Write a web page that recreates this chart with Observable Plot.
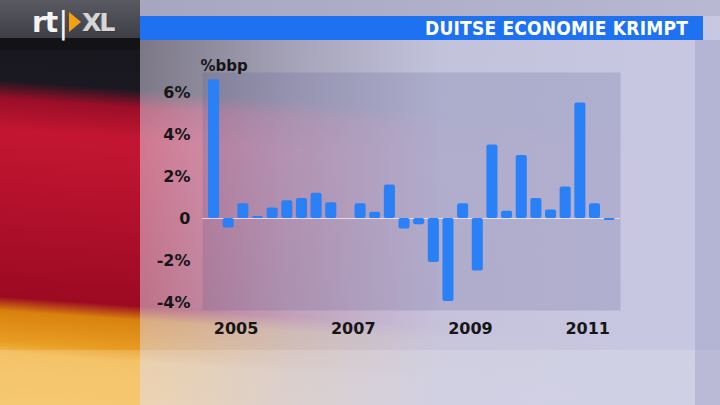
<!DOCTYPE html>
<html>
<head>
<meta charset="utf-8">
<script src="https://cdn.jsdelivr.net/npm/d3@7"></script>
<script src="https://cdn.jsdelivr.net/npm/@observablehq/plot@0.6"></script>
<style>
  html, body { margin:0; padding:0; }
  body { width:720px; height:405px; position:relative; overflow:hidden; background:#c6c6de; font-family:"DejaVu Sans", sans-serif; }
  .layer { position:absolute; }
  #flag { left:0; top:0; width:720px; height:405px;
    background: linear-gradient(184deg, #141419 0px, #1a1820 130px, #9a0e28 148px, #c41632 180px, #b0102b 265px, #9c0a22 346px, #d8820e 360px, #e89c22 390px, #f2b84c 402px, #f4bf58 454px); }
  #veil { left:140px; top:0; width:580px; height:405px;
    background: linear-gradient(to right, rgba(222,216,238,0.50) 0px, rgba(205,202,228,0.78) 150px, rgba(200,200,226,0.97) 300px, rgba(200,200,226,1) 580px); }
  #topL { left:0; top:0; width:140px; height:38px; background: linear-gradient(#5a5a62, #3e3e46); }
  #topLb { left:0; top:38px; width:140px; height:12px; background:#131317; }
  #topR { left:140px; top:0; width:580px; height:16px; background: linear-gradient(to right, #a6a6c0, #b8b8d2); }
  #blue { left:140px; top:16px; width:563px; height:24px; background:#1e72f2; }
  #rstrip { left:695px; top:40px; width:25px; height:365px; background: rgba(110,110,165,0.22); }
  #bottom { left:0; top:350px; width:720px; height:55px; background: rgba(255,255,255,0.16); }
  #title { right:32px; top:16px; height:24px; line-height:24px; color:#fff; font-family:"DejaVu Sans Condensed", "DejaVu Sans", sans-serif; font-weight:bold; font-size:19px; letter-spacing:0.2px; }
  #logo { left:32px; top:6px; height:32px; display:flex; align-items:center; }
  #logo .rt { color:#f4f4f4; font-family:"DejaVu Sans", sans-serif; font-weight:bold; font-size:28px; letter-spacing:-1px; }
  #logo .br { color:#f4f4f4; font-family:"DejaVu Sans", sans-serif; font-size:30px; margin-left:1px; }
  #logo .tri { width:0; height:0; border-top:10px solid transparent; border-bottom:10px solid transparent; border-left:12px solid #f5a010; margin-left:1px; }
  #logo .xl { color:#d6d6d6; font-family:"DejaVu Sans", sans-serif; font-weight:bold; font-size:25px; margin-left:1px; letter-spacing:-2px; text-shadow: 1px 1px 0 #3a3a3a, -1px 0 0 #777; }
  #chart { left:0; top:0; }
  #chart svg text { font-weight:bold; }
</style>
</head>
<body>
<div id="flag" class="layer"></div>
<div id="veil" class="layer"></div>
<div id="bottom" class="layer"></div>
<div id="rstrip" class="layer"></div>
<div id="topL" class="layer"></div>
<div id="topLb" class="layer"></div>
<div id="topR" class="layer"></div>
<div id="blue" class="layer"></div>
<div id="title" class="layer">DUITSE ECONOMIE KRIMPT</div>
<div id="logo" class="layer"><span class="rt">rt</span><span class="br">|</span><span class="tri"></span><span class="xl">XL</span></div>
<div id="chart" class="layer"></div>
<script>
// Quarterly GDP change (%), 2005 Q1 .. 2011 Q4
const years = [2005, 2006, 2007, 2008, 2009, 2010, 2011];
const quarters = ["Q1", "Q2", "Q3", "Q4"];
const values = [
  6.6, -0.45, 0.7, 0.1,
  0.5, 0.85, 0.95, 1.2,
  0.75, 0, 0.7, 0.3,
  1.6, -0.5, -0.3, -2.1,
  -3.95, 0.7, -2.5, 3.5,
  0.35, 3.0, 0.95, 0.4,
  1.5, 5.5, 0.7, -0.1
];
const yearLabels = [2005, 2007, 2009, 2011];
const yTicks = [-4, -2, 0, 2, 4, 6];
const unitLabel = "%bbp";

const data = [];
years.forEach((yr, i) => quarters.forEach((q, j) => {
  data.push({year: yr, quarter: q, t: yr + j * 0.25, v: values[i * 4 + j]});
}));

const chart = Plot.plot({
  width: 720,
  height: 405,
  marginLeft: 202,
  marginRight: 100,
  marginTop: 72,
  marginBottom: 95,
  style: {background: "transparent", fontFamily: "DejaVu Sans", fontSize: "16px", fontWeight: "bold", color: "#161616", overflow: "visible"},
  x: {domain: [2004.928, 2012.06], ticks: yearLabels.map(y => y + 0.5), tickFormat: d => String(Math.floor(d)), tickSize: 0, tickPadding: 12, label: null},
  y: {domain: [-4.38, 6.95], ticks: yTicks, tickFormat: d => d === 0 ? "0" : d + "%", tickSize: 0, tickPadding: 12, label: null},
  marks: [
    Plot.frame({fill: "#55558a", fillOpacity: 0.2, stroke: "none"}),
    Plot.ruleY([0], {stroke: "#f2f0fa", strokeOpacity: 0.75, strokeWidth: 1.2}),
    Plot.rectY(data, {x1: "t", x2: d => d.t + 0.25, y: "v", fill: "#2a80f6", insetLeft: 1.8, insetRight: 1.8, rx: 2}),
    Plot.text([unitLabel], {frameAnchor: "top-left", dx: -2, dy: -2, lineAnchor: "bottom", textAnchor: "start", fontSize: 15, fontWeight: "bold", fill: "#161616"})
  ]
});
document.getElementById("chart").appendChild(chart);
</script>
</body>
</html>
